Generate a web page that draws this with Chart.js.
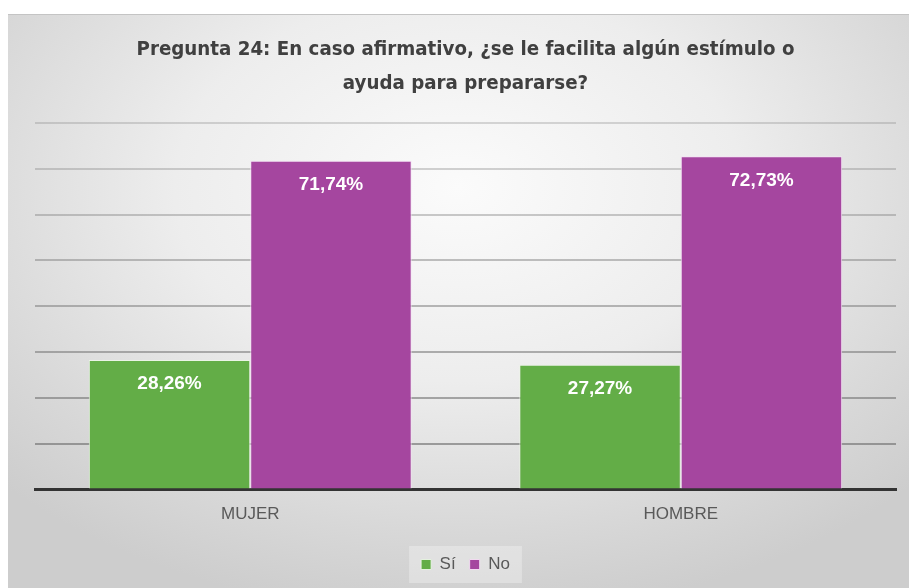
<!DOCTYPE html>
<html>
<head>
<meta charset="utf-8">
<script src="https://cdn.jsdelivr.net/npm/chart.js@4.4.1/dist/chart.umd.min.js"></script>
<style>
  html, body { margin: 0; padding: 0; background: #fff; }
  body { width: 909px; height: 588px; position: relative; overflow: hidden; }
  .frame {
    position: absolute; left: 8px; top: 14px; width: 901px; height: 574px;
    border-top: 1px solid #c4c4c4;
    background: radial-gradient(ellipse 70% 75% at 50% 30%, #fbfbfb 0%, #ededed 45%, #d8d8d8 80%, #cdcdcd 100%);
  }
  canvas { display: block; }
</style>
</head>
<body>
<div class="frame"><canvas id="chart" width="901" height="573"></canvas></div>
<script>
// data
const titleLines = ["Pregunta 24: En caso afirmativo, ¿se le facilita algún estímulo o", "ayuda para prepararse?"]
const categories = ["MUJER", "HOMBRE"]
const seriesNames = ["Sí", "No"]
const siValues = [28.26, 27.27]
const noValues = [71.74, 72.73]
const yMax = 80
const yStep = 10

const green = "#63ad47"
const purple = "#a5469f"

// white value labels inside the top of each bar
const barLabels = {
  id: "barLabels",
  afterDatasetsDraw(chart) {
    const ctx = chart.ctx
    ctx.save()
    ctx.fillStyle = "#ffffff"
    ctx.font = "bold 19px 'Liberation Sans', Arial, sans-serif"
    ctx.textAlign = "center"
    ctx.textBaseline = "middle"
    chart.data.datasets.forEach((ds, i) => {
      chart.getDatasetMeta(i).data.forEach((bar, j) => {
        const txt = ds.data[j].toFixed(2).replace(".", ",") + "%"
        ctx.fillText(txt, bar.x, bar.y + 24)
      })
    })
    ctx.restore()
  },
}

// light box behind the legend
const legendBox = {
  id: "legendBox",
  beforeDraw(chart) {
    const boxes = chart.legend && chart.legend.legendHitBoxes
    if (!boxes || !boxes.length) return
    let l = Infinity, r = -Infinity, t = Infinity, b = -Infinity
    boxes.forEach((h) => {
      l = Math.min(l, h.left); r = Math.max(r, h.left + h.width)
      t = Math.min(t, h.top); b = Math.max(b, h.top + h.height)
    })
    const ctx = chart.ctx
    ctx.save()
    ctx.fillStyle = "rgba(255,255,255,0.3)"
    ctx.fillRect(l - 12, t - 10, r - l + 24, b - t + 20)
    ctx.restore()
  },
}

new Chart(document.getElementById("chart"), {
  type: "bar",
  data: {
    labels: categories,
    datasets: [
      { label: seriesNames[0], data: siValues, backgroundColor: green, borderColor: "rgba(235,245,230,0.9)", borderWidth: 1 },
      { label: seriesNames[1], data: noValues, backgroundColor: purple, borderColor: "rgba(245,225,245,0.9)", borderWidth: 1 },
    ],
  },
  options: {
    responsive: false,
    animation: false,
    layout: { padding: { left: 27, right: 13, top: 0, bottom: 5 } },
    datasets: { bar: { categoryPercentage: 0.75, barPercentage: 1 } },
    scales: {
      x: {
        grid: { display: false },
        border: { display: true, color: "#333333", width: 3 },
        ticks: { color: "#595959", font: { family: "'Liberation Sans', Arial, sans-serif", size: 17 }, padding: 7 },
        afterFit: (scale) => { scale.height += 10 },
      },
      y: {
        min: 0,
        max: yMax,
        ticks: { display: false, stepSize: yStep },
        border: { display: false },
        grid: {
          drawTicks: false,
          lineWidth: 2,
          color: (c) => (c.index === 0 ? "rgba(0,0,0,0)" : "rgba(120,120,120," + (0.75 - c.index * 0.06) + ")"),
        },
      },
    },
    plugins: {
      title: {
        display: true,
        text: titleLines,
        color: "#404040",
        font: { family: "'Liberation Sans Narrow', 'DejaVu Sans Condensed', 'Roboto', sans-serif", size: 20.3, weight: "bold", lineHeight: 1.7 },
        padding: { top: 17, bottom: 22 },
      },
      legend: {
        position: "bottom",
        labels: {
          color: "#595959",
          boxWidth: 10,
          boxHeight: 10,
          padding: 14,
          font: { family: "'Liberation Sans', Arial, sans-serif", size: 17 },
        },
      },
      tooltip: { enabled: false },
    },
  },
  plugins: [barLabels, legendBox],
})
</script>
</body>
</html>
